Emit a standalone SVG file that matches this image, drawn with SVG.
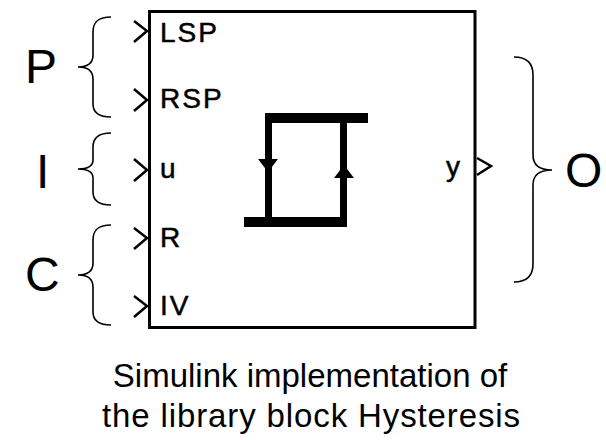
<svg xmlns="http://www.w3.org/2000/svg" width="606" height="440" viewBox="0 0 606 440">
<style>
.port{font-family:"Liberation Sans",Arial,sans-serif;font-size:28px;fill:#000;stroke:#000;stroke-width:0.5;letter-spacing:2px}
.big{font-family:"Liberation Sans",Arial,sans-serif;font-size:48px;fill:#000}
.cap{font-family:"Liberation Sans",Arial,sans-serif;font-size:33px;fill:#000;text-anchor:middle}
.chev{fill:none;stroke:#000;stroke-width:2.5}
.brace{fill:none;stroke:#000;stroke-width:1.6}
.bar{fill:#000}
</style>
<rect width="606" height="440" fill="#fff"/>
<g id="block">
<rect x="149.5" y="11.5" width="325.5" height="316" fill="#fff" stroke="#000" stroke-width="3"/>
<g id="hysteresis-symbol">
<rect class="bar" x="265" y="113" width="103" height="10"/>
<rect class="bar" x="265" y="113" width="7" height="110"/>
<rect class="bar" x="244" y="217" width="103" height="10"/>
<rect class="bar" x="340" y="113" width="7" height="110"/>
<polygon class="bar" points="258,159 278,159 268,172"/>
<polygon class="bar" points="344,165 354,178 334,178"/>
</g>
</g>
<g id="ports-in">
<g id="port-LSP"><polyline class="chev" points="134,21 147,31 134,42"/><text class="port" x="160" y="42">LSP</text></g>
<g id="port-RSP"><polyline class="chev" points="134,89 147,100 134,111"/><text class="port" x="160" y="108">RSP</text></g>
<g id="port-u"><polyline class="chev" points="134,159 147,170 134,181"/><text class="port" x="160" y="178">u</text></g>
<g id="port-R"><polyline class="chev" points="134,228 147,238 134,249"/><text class="port" x="160" y="247">R</text></g>
<g id="port-IV"><polyline class="chev" points="134,296 147,306 134,317"/><text class="port" x="160" y="315">IV</text></g>
</g>
<g id="port-out">
<text class="port" x="446" y="176">y</text>
<polyline class="chev" points="477,158 491,166 477,175"/>
</g>
<g id="connectors">
<g id="brace-P"><path class="brace" d="M111,17 C98,17 93,22 93,32 L93,55 C93,63 88,67 78,67 C88,67 93,71 93,79 L93,104 C93,112 98,117 111,117"/><text class="big" x="25" y="83">P</text></g>
<g id="brace-I"><path class="brace" d="M111,133 C98,133 93,138 93,147 L93,160 C93,166 88,169 78,169 C88,169 93,172 93,178 L93,192 C93,200 98,205 111,205"/><text class="big" x="36" y="188">I</text></g>
<g id="brace-C"><path class="brace" d="M111,225 C98,225 93,230 93,240 L93,263 C93,271 88,275 78,275 C88,275 93,279 93,287 L93,312 C93,320 98,325 111,325"/><text class="big" x="25" y="291">C</text></g>
<g id="brace-O"><path class="brace" d="M514,57 C527,57 533,63 533,75 L533,155 C533,165 540,170 552,170 C540,170 533,175 533,185 L533,264 C533,276 527,282 514,282"/><text class="big" x="565" y="187">O</text></g>
</g>
<g id="caption">
<text class="cap" x="310" y="387">Simulink implementation of</text>
<text class="cap" x="311" y="427" textLength="418" lengthAdjust="spacing">the library block Hysteresis</text>
</g>
</svg>
